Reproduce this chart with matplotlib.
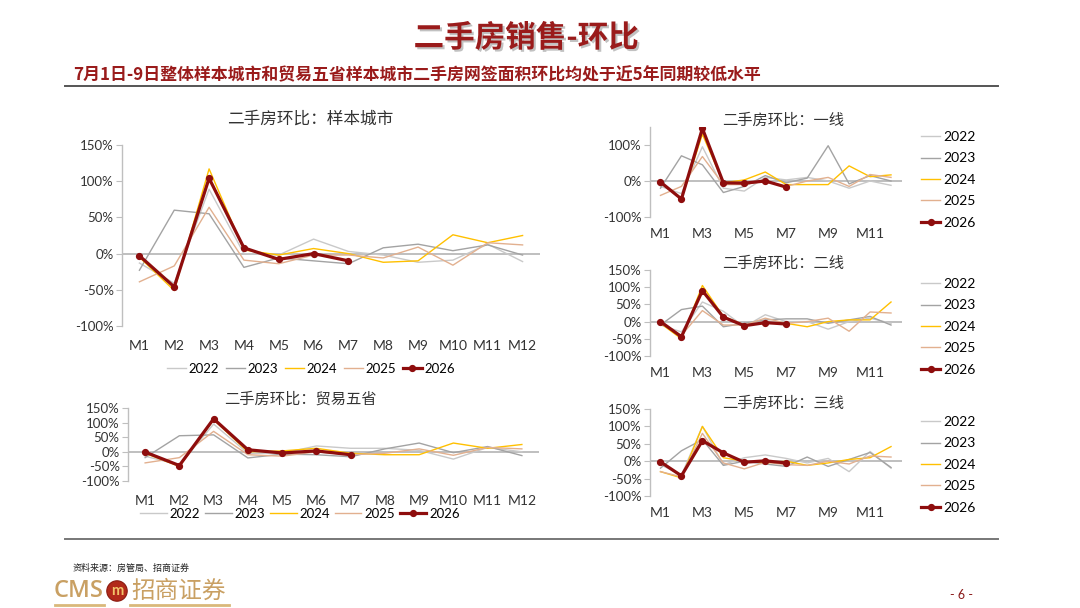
import matplotlib
matplotlib.use("Agg")
import matplotlib.pyplot as plt
import matplotlib.patheffects as pe
from matplotlib.ticker import FixedLocator, FuncFormatter

plt.rcParams['font.family'] = ['Lato', 'Noto Sans CJK SC', 'DejaVu Sans']

months = ['M1', 'M2', 'M3', 'M4', 'M5', 'M6', 'M7', 'M8', 'M9', 'M10', 'M11', 'M12']
years = ['2022', '2023', '2024', '2025', '2026']

# 样本城市
s_2022 = [-13, -41, 89, 0, -2, 20, 3, -2, -12, -9, 13, -11]
s_2023 = [-23, 60, 55, -19, -6, -10, -14, 8, 13, 4, 12, -2]
s_2024 = [-5, -51, 117, 5, -2, 7, 0, -12, -10, 26, 15, 25]
s_2025 = [-39, -17, 64, -9, -14, -2, -2, -6, 9, -16, 15, 12]
s_2026 = [-3, -46, 104, 8, -8, 0, -10]

# 贸易五省
t_2022 = [-15, -45, 95, -5, -5, 20, 12, 12, 5, -25, 15, 0]
t_2023 = [-20, 55, 58, -21, -8, -10, -17, 10, 30, -3, 18, -13]
t_2024 = [-5, -50, 110, 0, 3, 12, -5, -10, -10, 30, 12, 25]
t_2025 = [-38, -20, 70, -10, -15, 0, -10, -5, 10, -12, 15, 10]
t_2026 = [-1, -47, 113, 7, -4, 3, -10]

# 一线
a_2022 = [-15, -35, 95, -20, -28, 10, 3, 10, 0, -20, 0, -12]
a_2023 = [-20, 70, 45, -32, -15, 15, -5, 8, 98, -8, 15, 0]
a_2024 = [-5, -50, 130, -5, 3, 25, -10, -10, -10, 42, 12, 17]
a_2025 = [-40, -15, 68, -10, -10, 0, -15, 0, 10, -15, 18, 10]
a_2026 = [-3, -50, 146, -5, -6, 0, -17]

# 二线
b_2022 = [-10, -30, 57, 30, -15, 20, 0, 0, -22, 0, 10, -5]
b_2023 = [-10, 35, 45, -15, -5, 5, 8, 8, -5, 5, 15, -10]
b_2024 = [-5, -50, 105, 15, -10, -5, -5, -15, 0, 5, 5, 57]
b_2025 = [-5, -40, 32, -10, -10, 10, -5, 0, 10, -28, 28, 25]
b_2026 = [0, -44, 90, 13, -12, -3, -7]

# 三线
c_2022 = [-10, -40, 100, -10, 10, 18, 8, -5, 8, -30, 28, -20]
c_2023 = [-20, 30, 62, -12, 0, -8, -15, 12, -15, 5, 25, -18]
c_2024 = [-30, -48, 100, 10, 0, -5, 0, -12, -5, 5, 10, 42]
c_2025 = [-30, -45, 80, -5, -22, -3, -10, -12, 0, -8, 15, 12]
c_2026 = [-2, -42, 59, 24, -3, 1, -5]

colors = {'2022': '#C9C9C9', '2023': '#A3A3A3', '2024': '#FFC000',
          '2025': '#E2B08F', '2026': '#8E0D0D'}
RED = '#9A1B1B'

W, H = 1080, 608
fig = plt.figure(figsize=(W / 100, H / 100), dpi=100)
fig.patch.set_facecolor('white')


def box(left, top, right, bottom):
    return [left / W, 1 - bottom / H, (right - left) / W, (bottom - top) / H]


def draw_panel(rect, series, yticks, all_labels, xpad, tick_fs=9.5):
    ax = fig.add_axes(box(*rect))
    x = list(range(1, 13))
    handles = []
    for yr, vals in zip(years, series):
        xs = x[:len(vals)]
        if yr == '2026':
            h, = ax.plot(xs, vals, color=colors[yr], lw=2.3, marker='o', ms=4.2,
                         label=yr, zorder=5)
        else:
            h, = ax.plot(xs, vals, color=colors[yr], lw=1.0, label=yr, zorder=3)
        handles.append(h)
    ax.axhline(0, color='#BFBFBF', lw=1.4, zorder=2)
    ax.set_xlim(0.5, 12.5)
    ax.set_ylim(-100, 150)
    ax.yaxis.set_major_locator(FixedLocator(yticks))
    ax.yaxis.set_major_formatter(FuncFormatter(lambda v, p: f'{int(v)}%'))
    if all_labels:
        ax.set_xticks(x)
        ax.set_xticklabels(months)
    else:
        ax.set_xticks(x[::2])
        ax.set_xticklabels(months[::2])
    for s in ['top', 'right', 'bottom']:
        ax.spines[s].set_visible(False)
    ax.spines['left'].set_color('#BFBFBF')
    ax.spines['left'].set_linewidth(1.0)
    ax.tick_params(axis='y', length=4, color='#BFBFBF', labelsize=tick_fs,
                   labelcolor='#333333', pad=2)
    ax.tick_params(axis='x', length=0, labelsize=tick_fs + 0.5,
                   labelcolor='#333333', pad=xpad)
    ax.patch.set_alpha(0)
    return ax, handles


# Header
fig.text(526 / W, 1 - 38 / H, '二手房销售-环比', ha='center', va='center',
         fontsize=22, fontweight='bold', color=RED,
         family=['Noto Sans CJK SC', 'DejaVu Sans'],
         path_effects=[pe.withSimplePatchShadow(offset=(1.5, -1.5), shadow_rgbFace='#999999', alpha=0.6)])
fig.text(73 / W, 1 - 75 / H,
         '7月1日-9日整体样本城市和贸易五省样本城市二手房网签面积环比均处于近5年同期较低水平',
         ha='left', va='center', fontsize=12.2, fontweight='bold', color=RED,
         family=['Noto Sans CJK SC', 'DejaVu Sans'])
fig.add_artist(plt.Line2D([65 / W, 998 / W], [1 - 86 / H, 1 - 86 / H], color='#555555', lw=1.4))
fig.add_artist(plt.Line2D([65 / W, 998 / W], [1 - 539 / H, 1 - 539 / H], color='#777777', lw=1.4))

# Main panel
ax1, h1 = draw_panel((122, 145, 540, 326), [s_2022, s_2023, s_2024, s_2025, s_2026],
                     [-100, -50, 0, 50, 100, 150], True, 10)
fig.text(310 / W, 1 - 119 / H, '二手房环比：样本城市', ha='center', va='center',
         fontsize=12, color='#333333')
fig.legend(handles=h1, labels=years, loc='center', bbox_to_anchor=(311 / W, 1 - 369 / H),
           ncol=5, frameon=False, fontsize=9.5, handlelength=1.4, handletextpad=0.2,
           columnspacing=0.55)

# Bottom-left panel
ax2, h2 = draw_panel((128, 408, 539, 481), [t_2022, t_2023, t_2024, t_2025, t_2026],
                     [-100, -50, 0, 50, 100, 150], True, 10)
fig.text(300 / W, 1 - 399 / H, '二手房环比：贸易五省', ha='center', va='center',
         fontsize=11, color='#333333')
fig.legend(handles=h2, labels=years, loc='center', bbox_to_anchor=(300 / W, 1 - 514 / H),
           ncol=5, frameon=False, fontsize=9.5, handlelength=2.0, handletextpad=0.2,
           columnspacing=0.4)

# Right panels
right_specs = [
    ((650, 127, 901.5, 217), [a_2022, a_2023, a_2024, a_2025, a_2026], '二手房环比：一线',
     [-100, 0, 100], 120, 136),
    ((650, 270, 901.5, 356), [b_2022, b_2023, b_2024, b_2025, b_2026], '二手房环比：二线',
     [-100, -50, 0, 50, 100, 150], 263, 283),
    ((650, 409, 901.5, 496), [c_2022, c_2023, c_2024, c_2025, c_2026], '二手房环比：三线',
     [-100, -50, 0, 50, 100, 150], 403, 421),
]
for rect, series, title, yt, ty, ly in right_specs:
    ax, hh = draw_panel(rect, series, yt, False, 8)
    fig.text(783 / W, 1 - ty / H, title, ha='center', va='center', fontsize=11,
             color='#333333')
    fig.legend(handles=hh, labels=years, loc='upper left',
               bbox_to_anchor=(921 / W, 1 - (ly - 5) / H), ncol=1, frameon=False,
               fontsize=10, handlelength=1.4, handletextpad=0.2, labelspacing=0.68,
               borderpad=0, borderaxespad=0)

# Footer
fig.text(73 / W, 1 - 568 / H, '资料来源：房管局、招商证券', ha='left', va='center',
         fontsize=6.5, color='#222222', family=['Noto Sans CJK SC', 'DejaVu Sans'])
fig.text(54 / W, 1 - 591 / H, 'CMS', ha='left', va='center', fontsize=17,
         fontweight='semibold', color='#C9A063',
         family=['Open Sans', 'DejaVu Sans'])
fig.text(117 / W, 1 - 591 / H, 'm', ha='center', va='center', fontsize=10.5,
         fontweight='bold', color='#F2C46A',
         bbox=dict(boxstyle='circle,pad=0.22', fc='#B22A1A', ec='#8A1A10', lw=0.8))
fig.text(131 / W, 1 - 591 / H, '招商证券', ha='left', va='center', fontsize=17,
         color='#C9A063', family=['Noto Sans CJK SC', 'DejaVu Sans'])
fig.add_artist(plt.Line2D([55 / W, 104 / W], [1 - 605 / H, 1 - 605 / H], color='#D9B87A', lw=2))
fig.add_artist(plt.Line2D([130 / W, 229 / W], [1 - 605 / H, 1 - 605 / H], color='#D9B87A', lw=2))
fig.text(962 / W, 1 - 595 / H, '- 6 -', ha='center', va='center', fontsize=9,
         color='#8A1A1A')

fig.savefig('out.png', dpi=100, facecolor='white')
